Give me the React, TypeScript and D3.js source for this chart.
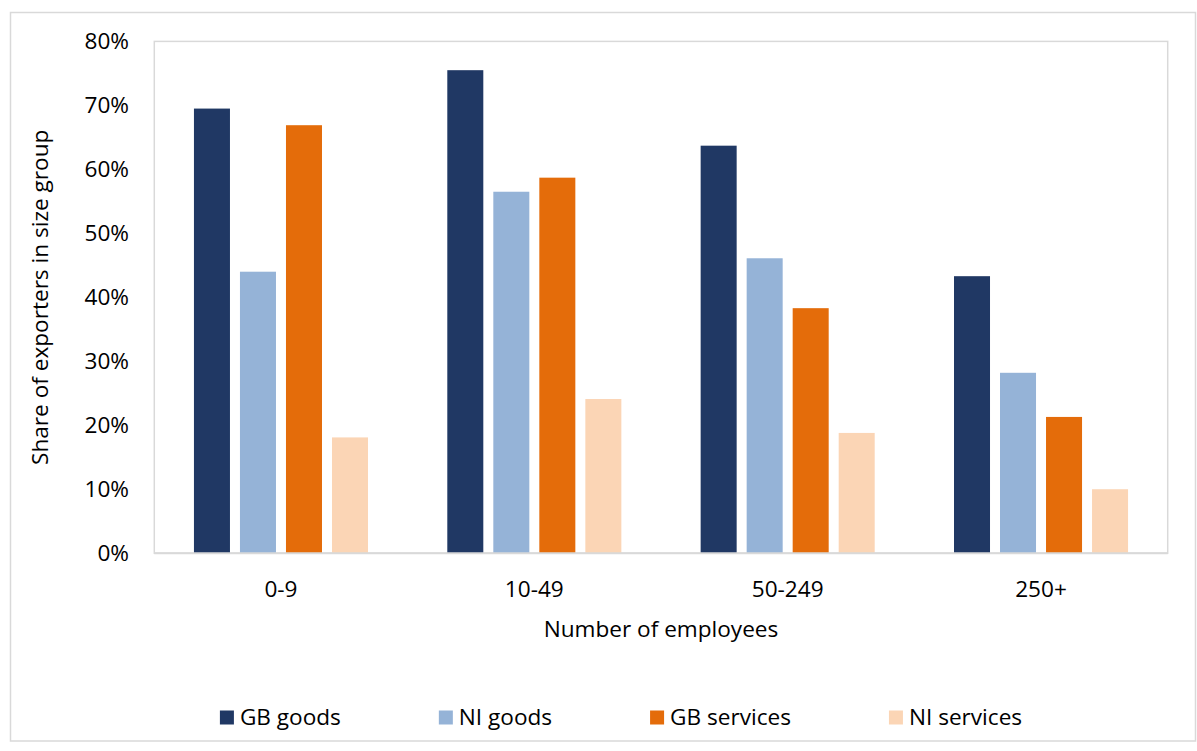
import React, { useEffect, useRef } from "react";
import * as d3 from "d3";

const categories = ["0-9", "10-49", "50-249", "250+"];
const seriesNames = ["GB goods", "NI goods", "GB services", "NI services"];
const gbGoods = [69.5, 75.5, 63.7, 43.3];
const niGoods = [44.0, 56.5, 46.1, 28.2];
const gbServices = [66.9, 58.7, 38.3, 21.3];
const niServices = [18.1, 24.1, 18.8, 10.0];
const yTicks = [0, 10, 20, 30, 40, 50, 60, 70, 80];
const colors = ["#203864", "#95B3D7", "#E46C0A", "#FBD5B5"];

const W = 1197;
const H = 751;
const FONT = "'Open Sans', 'DejaVu Sans', sans-serif";
const FS = 22.6;

export default function App() {
  const ref = useRef<SVGSVGElement | null>(null);

  useEffect(() => {
    const svg = d3.select(ref.current);
    svg.selectAll("*").remove();

    const plot = { left: 154.3, right: 1167.7, top: 41.4, bottom: 553.2 };
    const values = [gbGoods, niGoods, gbServices, niServices];

    // outer chart border
    svg.append("rect")
      .attr("x", 10.5).attr("y", 12.5)
      .attr("width", 1185).attr("height", 728.5)
      .attr("fill", "#fff").attr("stroke", "#D9D9D9").attr("stroke-width", 1.5);

    const x = d3.scaleBand<string>().domain(categories).range([plot.left, plot.right]).paddingInner(0).paddingOuter(0);
    const y = d3.scaleLinear().domain([0, 80]).range([plot.bottom, plot.top]);

    const groupW = x.bandwidth() * 0.687;
    const xs = d3.scaleBand<string>().domain(seriesNames)
      .range([-groupW / 2, groupW / 2]).paddingInner(10 / 46).paddingOuter(0);

    // plot area border
    svg.append("rect")
      .attr("x", plot.left).attr("y", plot.top)
      .attr("width", plot.right - plot.left).attr("height", plot.bottom - plot.top)
      .attr("fill", "none").attr("stroke", "#D9D9D9").attr("stroke-width", 1.5);

    // bars
    seriesNames.forEach((s, si) => {
      svg.append("g").selectAll("rect")
        .data(categories)
        .join("rect")
        .attr("x", (c) => (x(c) as number) + x.bandwidth() / 2 + (xs(s) as number))
        .attr("width", xs.bandwidth())
        .attr("y", (_c, i) => y(values[si][i]))
        .attr("height", (_c, i) => plot.bottom - y(values[si][i]))
        .attr("fill", colors[si]);
    });

    // bottom axis line
    svg.append("line")
      .attr("x1", plot.left).attr("x2", plot.right)
      .attr("y1", plot.bottom).attr("y2", plot.bottom)
      .attr("stroke", "#D9D9D9").attr("stroke-width", 2);

    // y tick labels
    svg.append("g").selectAll("text")
      .data(yTicks)
      .join("text")
      .attr("x", 129)
      .attr("y", (d) => y(d))
      .attr("dy", "0.35em")
      .attr("text-anchor", "end")
      .attr("font-family", FONT).attr("font-size", FS).attr("fill", "#000")
      .text((d) => `${d}%`);

    // x tick labels
    svg.append("g").selectAll("text")
      .data(categories)
      .join("text")
      .attr("x", (c) => (x(c) as number) + x.bandwidth() / 2)
      .attr("y", 597)
      .attr("text-anchor", "middle")
      .attr("font-family", FONT).attr("font-size", FS).attr("fill", "#000")
      .text((c) => c);

    // axis titles
    svg.append("text")
      .attr("x", (plot.left + plot.right) / 2).attr("y", 637)
      .attr("text-anchor", "middle")
      .attr("font-family", FONT).attr("font-size", FS).attr("fill", "#000")
      .text("Number of employees");

    svg.append("text")
      .attr("transform", `translate(48, ${(plot.top + plot.bottom) / 2}) rotate(-90)`)
      .attr("text-anchor", "middle")
      .attr("font-family", FONT).attr("font-size", FS).attr("fill", "#000")
      .text("Share of exporters in size group");

    // legend
    const lg = svg.append("g");
    const sq = 14, sqGap = 6, itemGap = 98;
    const items = seriesNames.map((s, i) => {
      const g = lg.append("g");
      g.append("rect").attr("x", 0).attr("y", -sq).attr("width", sq).attr("height", sq).attr("fill", colors[i]);
      const t = g.append("text").attr("x", sq + sqGap).attr("y", 0)
        .attr("font-family", FONT).attr("font-size", FS).attr("fill", "#000").text(s);
      const w = (t.node() as SVGTextElement).getComputedTextLength();
      return { g, w: sq + sqGap + w };
    });
    const total = items.reduce((a, b) => a + b.w, 0) + itemGap * (items.length - 1);
    let cx = 621 - total / 2;
    items.forEach((it) => {
      it.g.attr("transform", `translate(${cx}, 724.5)`);
      cx += it.w + itemGap;
    });
  }, []);

  return (
    <svg
      ref={ref}
      width={W}
      height={H}
      style={{ position: "absolute", left: 0, top: 0, background: "#fff" }}
    />
  );
}
